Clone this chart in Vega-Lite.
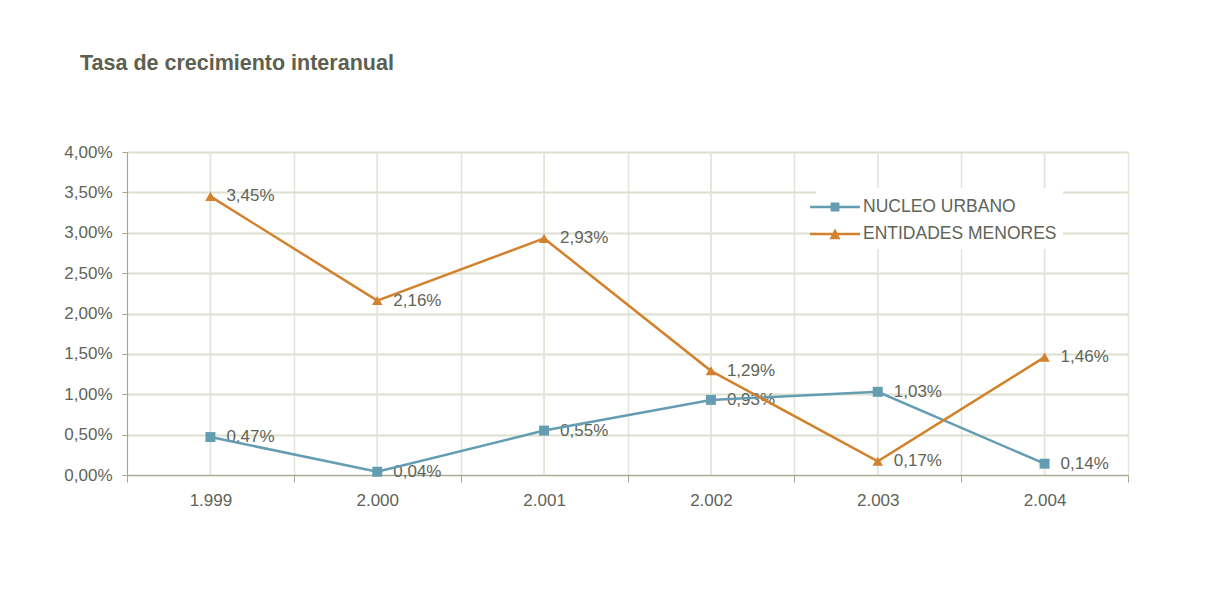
{
  "$schema": "https://vega.github.io/schema/vega-lite/v6.json",
  "width": 1001,
  "height": 323,
  "autosize": {"type": "none"},
  "padding": {"left": 127, "top": 152, "right": 80, "bottom": 135},
  "background": "white",
  "title": {
    "text": "Tasa de crecimiento interanual",
    "anchor": "start",
    "frame": "group",
    "dx": -47,
    "offset": 52,
    "baseline": "alphabetic",
    "fontSize": 21.5,
    "fontWeight": "bold",
    "color": "#5b604f",
    "font": "Liberation Sans"
  },
  "data": {
    "values": [
      {"year": "1.999", "serie": "NUCLEO URBANO", "value": 0.0047},
      {"year": "2.000", "serie": "NUCLEO URBANO", "value": 0.0004},
      {"year": "2.001", "serie": "NUCLEO URBANO", "value": 0.0055},
      {"year": "2.002", "serie": "NUCLEO URBANO", "value": 0.0093},
      {"year": "2.003", "serie": "NUCLEO URBANO", "value": 0.0103},
      {"year": "2.004", "serie": "NUCLEO URBANO", "value": 0.0014},
      {"year": "1.999", "serie": "ENTIDADES MENORES", "value": 0.0345},
      {"year": "2.000", "serie": "ENTIDADES MENORES", "value": 0.0216},
      {"year": "2.001", "serie": "ENTIDADES MENORES", "value": 0.0293},
      {"year": "2.002", "serie": "ENTIDADES MENORES", "value": 0.0129},
      {"year": "2.003", "serie": "ENTIDADES MENORES", "value": 0.0017},
      {"year": "2.004", "serie": "ENTIDADES MENORES", "value": 0.0146}
    ]
  },
  "encoding": {
    "x": {
      "field": "year",
      "type": "ordinal",
      "sort": null,
      "scale": {"type": "band", "paddingInner": 0, "paddingOuter": 0},
      "axis": {
        "title": null,
        "labelAngle": 0,
        "tickBand": "extent",
        "grid": true,
        "gridColor": "#e2e6da",
        "gridWidth": 1.5,
        "domainColor": "#a5a890",
        "tickColor": "#a5a890",
        "tickSize": 7,
        "labelPadding": 10,
        "labelFontSize": 17,
        "labelFont": "Liberation Sans",
        "labelColor": "#606458"
      }
    }
  },
  "layer": [
    {
      "mark": {"type": "rule", "color": "#e2e6da", "strokeWidth": 1.5},
      "encoding": {}
    },
    {
      "mark": {"type": "text", "align": "left", "baseline": "middle", "dx": 16, "fontSize": 17, "font": "Liberation Sans", "color": "#606458"},
      "encoding": {
        "y": {
          "field": "value",
          "type": "quantitative",
          "scale": {"domain": [0, 0.04], "nice": false},
          "axis": {
            "title": null,
            "values": [0, 0.005, 0.01, 0.015, 0.02, 0.025, 0.03, 0.035, 0.04],
            "format": ".2%",
            "grid": true,
            "gridColor": "#dbe0d0",
            "gridWidth": 2,
            "domainColor": "#a5a890",
            "tickColor": "#a5a890",
            "tickSize": 5,
            "labelPadding": 10,
            "labelFontSize": 17,
            "labelFont": "Liberation Sans",
            "labelColor": "#606458"
          }
        },
        "text": {"field": "value", "type": "quantitative", "format": ".2%"}
      }
    },
    {
      "encoding": {
        "y": {"field": "value", "type": "quantitative"},
        "color": {
          "field": "serie",
          "type": "nominal",
          "scale": {"domain": ["NUCLEO URBANO", "ENTIDADES MENORES"], "range": ["#649db2", "#d2822d"]},
          "legend": {
            "orient": "none",
            "legendX": 689,
            "legendY": 36,
            "title": null,
            "fillColor": "white",
            "padding": 6,
            "symbolSize": 676,
            "symbolStrokeWidth": 0,
            "labelOffset": 15,
            "labelLimit": 400,
            "labelFontSize": 17.5,
            "labelFont": "Liberation Sans",
            "labelColor": "#606458",
            "rowPadding": 5,
            "encode": {
              "symbols": {
                "update": {
                  "shape": {"signal": "datum.value === 'NUCLEO URBANO' ? 'M-1.92,-0.09H1.92V0.09H-1.92Z M-0.34,-0.34H0.34V0.34H-0.34Z' : 'M-1.92,-0.09H1.92V0.09H-1.92Z M0,-0.42L0.42,0.4H-0.42Z'"},
                  "fill": {"scale": "color", "field": "value"},
                  "fillOpacity": {"value": 1},
                  "strokeWidth": {"value": 0}
                }
              }
            }
          }
        }
      },
      "layer": [
        {"mark": {"type": "line", "strokeWidth": 2.5}},
        {
          "transform": [{"filter": "datum.serie === 'NUCLEO URBANO'"}],
          "mark": {"type": "point", "shape": "square", "filled": true, "size": 100, "opacity": 1}
        },
        {
          "transform": [{"filter": "datum.serie === 'ENTIDADES MENORES'"}],
          "mark": {"type": "point", "shape": "triangle-up", "filled": true, "size": 110, "opacity": 1}
        }
      ]
    }
  ],
  "config": {
    "font": "Liberation Sans",
    "view": {"stroke": null},
    "locale": {
      "number": {"decimal": ",", "thousands": ".", "grouping": [3], "currency": ["", " €"]}
    }
  }
}
